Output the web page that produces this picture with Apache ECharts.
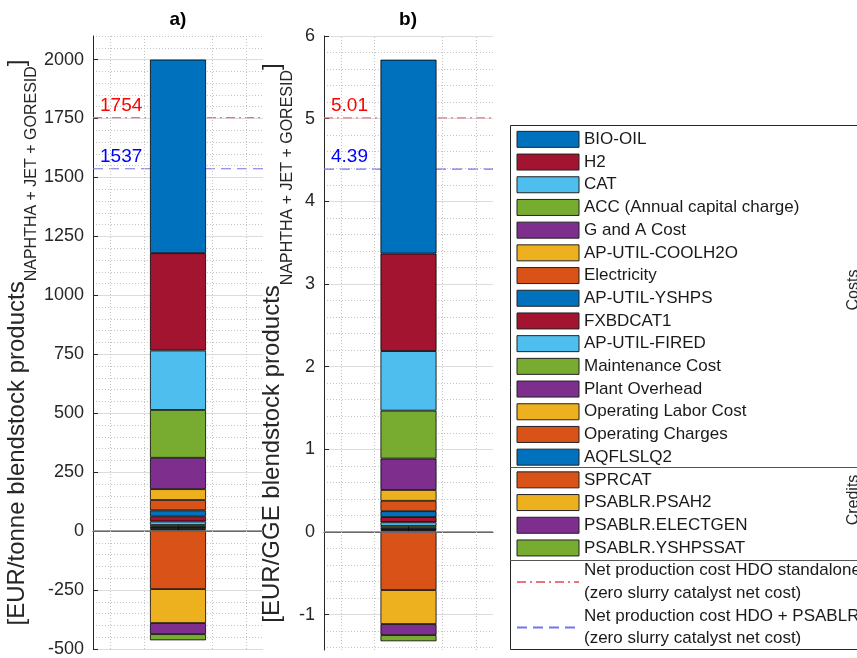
<!DOCTYPE html>
<html><head><meta charset="utf-8">
<script src="https://cdn.jsdelivr.net/npm/echarts@6/dist/echarts.min.js"></script>
<style>html,body{margin:0;padding:0;background:#fff}#c{width:857px;height:658px}</style>
</head><body><div id="c"></div>
<script>
// ---------- data ----------
const panelTitles = ['a)', 'b)'];
const barCategory = ['1'];
const costNames = ['BIO-OIL','H2','CAT','ACC (Annual capital charge)','G and A Cost','AP-UTIL-COOLH2O','Electricity','AP-UTIL-YSHPS','FXBDCAT1','AP-UTIL-FIRED','Maintenance Cost','Plant Overhead','Operating Labor Cost','Operating Charges','AQFLSLQ2'];
const costA = [821, 413, 252, 203, 133, 46, 44, 25, 22, 15, 8, 6, 5, 4, 3];
const costB = [2.345, 1.180, 0.720, 0.580, 0.380, 0.131, 0.126, 0.071, 0.063, 0.043, 0.023, 0.017, 0.014, 0.011, 0.009];
const creditNames = ['SPRCAT','PSABLR.PSAH2','PSABLR.ELECTGEN','PSABLR.YSHPSSAT'];
const creditA = [-246, -144, -47, -26];
const creditB = [-0.703, -0.411, -0.134, -0.074];
const refNames = ['Net production cost HDO standalone\n(zero slurry catalyst net cost)', 'Net production cost HDO + PSABLR\n(zero slurry catalyst net cost)'];
const refA = [1754, 1537];
const refB = [5.01, 4.39];
const yTicksA = [-500, -250, 0, 250, 500, 750, 1000, 1250, 1500, 1750, 2000];
const yTicksB = [-1, 0, 1, 2, 3, 4, 5, 6];
const yLabelA = '{m|[EUR/tonne blendstock products}{s|NAPHTHA + JET + GORESID}{m|]}';
const yLabelB = '{m|[EUR/GGE blendstock products}{s|NAPHTHA + JET + GORESID}{m|]}';

// ---------- style ----------
const FONT = '"Liberation Sans", Arial, Helvetica, sans-serif';
const costColors = ['#0072BD','#A2142F','#4DBEEE','#77AC30','#7E2F8E','#EDB120','#D95319','#0072BD','#A2142F','#4DBEEE','#77AC30','#7E2F8E','#EDB120','#D95319','#0072BD'];
const creditColors = ['#D95319','#EDB120','#7E2F8E','#77AC30'];
const refColors = ['#F0707C', '#7474EC'];
const refLabelColors = ['#FF0000', '#0000FF'];
const refDash = [[9, 4, 2, 4], [10, 6]];
const AXC = '#262626';
const MINOR = '#C4C4C4';

const panels = [
  {title: panelTitles[0], cost: costA, credit: creditA, ref: refA, ticks: yTicksA, min: -500, max: 2100, minorStep: 50, majorStep: 250, name: yLabelA, nameGap: 50, left: 93, width: 170, tx: 178},
  {title: panelTitles[1], cost: costB, credit: creditB, ref: refB, ticks: yTicksB, min: -1.428, max: 6, minorStep: 0.2, majorStep: 1, name: yLabelB, nameGap: 25, left: 324, width: 169, tx: 408}
];
const NP = panels.length;

const grid = [], xAxis = [], yAxis = [], series = [], graphic = [];
const xHidden = [], yMinor = [];
panels.forEach((p, k) => {
  grid.push({left: p.left, top: 36, width: p.width, height: 614, containLabel: false});
  xAxis.push({
    type: 'category', gridIndex: k, data: barCategory, boundaryGap: true,
    axisLine: {show: true, lineStyle: {color: AXC, width: 1}},
    axisTick: {show: true, inside: true, length: 6, alignWithLabel: true, lineStyle: {color: AXC}},
    axisLabel: {show: false}, splitLine: {show: false}
  });
  xHidden.push({type: 'value', gridIndex: k, min: 0.5, max: 1.5, show: false});
  yAxis.push({
    type: 'value', gridIndex: k, min: p.min, max: p.max, position: 'left',
    name: p.name, nameLocation: 'middle', nameRotate: 90, nameGap: p.nameGap,
    nameTextStyle: {fontFamily: FONT, color: AXC, rich: {
      m: {fontSize: 24, fontFamily: FONT, color: AXC, lineHeight: 46, verticalAlign: 'middle'},
      s: {fontSize: 16, fontFamily: FONT, color: AXC, lineHeight: 16, verticalAlign: 'bottom'}
    }},
    axisLine: {show: true, lineStyle: {color: AXC, width: 1}},
    axisTick: {show: true, inside: true, length: 5, customValues: p.ticks, lineStyle: {color: AXC}},
    axisLabel: {customValues: p.ticks, formatter: (v) => String(v), fontSize: 18, fontFamily: FONT, color: AXC, margin: 9},
    splitLine: {show: true, lineStyle: {color: '#DCDCDC', width: 1, type: 'solid'}}
  });
  // minor grid positions (grid only, not data)
  const mv = [];
  const n0 = Math.ceil(p.min / p.minorStep - 1e-9), n1 = Math.floor(p.max / p.minorStep + 1e-9);
  for (let n = n0; n <= n1; n++) {
    const v = +(n * p.minorStep).toFixed(6);
    if (Math.abs(v / p.majorStep - Math.round(v / p.majorStep)) > 1e-6) mv.push(v);
  }
  yMinor.push({
    type: 'value', gridIndex: k, min: p.min, max: p.max, position: 'left',
    axisLine: {show: false}, axisLabel: {show: false},
    axisTick: {show: false, customValues: mv},
    splitLine: {show: true, lineStyle: {color: MINOR, width: 1, type: [1, 2]}}
  });
});
xHidden.forEach(a => xAxis.push(a));
yMinor.forEach(a => yAxis.push(a));

panels.forEach((p, k) => {
  // costs stacked from bottom (last item) to top (first item)
  for (let i = costNames.length - 1; i >= 0; i--) {
    series.push({
      type: 'bar', name: costNames[i], xAxisIndex: k, yAxisIndex: k, stack: 'cost' + k,
      barWidth: 56, z: 3,
      data: [p.cost[i]],
      itemStyle: {color: costColors[i], borderColor: '#000', borderWidth: 0.8}
    });
  }
  for (let i = 0; i < creditNames.length; i++) {
    series.push({
      type: 'bar', name: creditNames[i], xAxisIndex: k, yAxisIndex: k, stack: 'cost' + k,
      barWidth: 56, z: 3,
      data: [p.credit[i]],
      itemStyle: {color: creditColors[i], borderColor: '#000', borderWidth: 0.8}
    });
  }
  refNames.forEach((nm, j) => {
    const s = {
      type: 'line', name: nm, xAxisIndex: NP + k, yAxisIndex: k, z: 1, clip: false,
      symbol: 'circle', symbolSize: 0, showSymbol: true, silent: true,
      lineStyle: {color: refColors[j], width: 1.2, type: refDash[j]},
      itemStyle: {color: refColors[j]},
      data: [
        {value: [0.5, p.ref[j]], label: {show: true, position: [7, -12], align: 'left', verticalAlign: 'middle',
          formatter: (q) => String(q.value[1]), color: refLabelColors[j], fontSize: 19, fontFamily: FONT}},
        [1.5, p.ref[j]]
      ]
    };
    if (j === 0) {
      s.markLine = {
        silent: true, symbol: 'none', label: {show: false}, animation: false,
        data: [
          {yAxis: 0, lineStyle: {color: '#808080', width: 1.5, type: 'solid'}},
          {xAxis: 0.6, lineStyle: {color: MINOR, width: 1, type: [1, 2]}},
          {xAxis: 0.8, lineStyle: {color: MINOR, width: 1, type: [1, 2]}},
          {xAxis: 1.2, lineStyle: {color: MINOR, width: 1, type: [1, 2]}},
          {xAxis: 1.4, lineStyle: {color: MINOR, width: 1, type: [1, 2]}}
        ]
      };
    }
    series.push(s);
  });
  graphic.push({type: 'text', x: p.tx, y: 20, style: {text: p.title, fontSize: 19, fontWeight: 'bold', fontFamily: FONT, fill: '#000', align: 'center', verticalAlign: 'middle'}});
});

// legend frame + separators + group labels
graphic.push({type: 'rect', shape: {x: 510.5, y: 125.5, width: 400, height: 524}, style: {fill: 'none', stroke: AXC, lineWidth: 1}, z: 10});
graphic.push({type: 'line', shape: {x1: 510, y1: 467.5, x2: 857, y2: 467.5}, style: {stroke: '#555', lineWidth: 1}, z: 10});
graphic.push({type: 'line', shape: {x1: 510, y1: 560.5, x2: 857, y2: 560.5}, style: {stroke: '#555', lineWidth: 1}, z: 10});
graphic.push({type: 'text', x: 854, y: 290, rotation: Math.PI / 2, style: {text: 'Costs', fontSize: 16, fontFamily: FONT, fill: AXC, align: 'center', verticalAlign: 'middle'}, z: 10});
graphic.push({type: 'text', x: 854, y: 500, rotation: Math.PI / 2, style: {text: 'Credits', fontSize: 16, fontFamily: FONT, fill: AXC, align: 'center', verticalAlign: 'middle'}, z: 10});

const legendData = costNames.map(n => ({name: n, icon: 'rect'}))
  .concat(creditNames.map(n => ({name: n, icon: 'rect'})))
  .concat(refNames.map(n => ({name: n, itemStyle: {opacity: 0, borderWidth: 0}})));

const chart = echarts.init(document.getElementById('c'), null, {renderer: 'canvas'});
chart.setOption({
  animation: false,
  backgroundColor: '#fff',
  textStyle: {fontFamily: FONT},
  grid, xAxis, yAxis, series, graphic,
  legend: {
    data: legendData, orient: 'vertical', left: 516, top: 128, height: 620, padding: 0,
    itemWidth: 62, itemHeight: 16, itemGap: 0, selectedMode: false,
    itemStyle: {borderWidth: 1, borderColor: '#222'},
    textStyle: {fontSize: 17, lineHeight: 22.7, color: '#1a1a1a', fontFamily: FONT}
  }
});
</script>
</body></html>
